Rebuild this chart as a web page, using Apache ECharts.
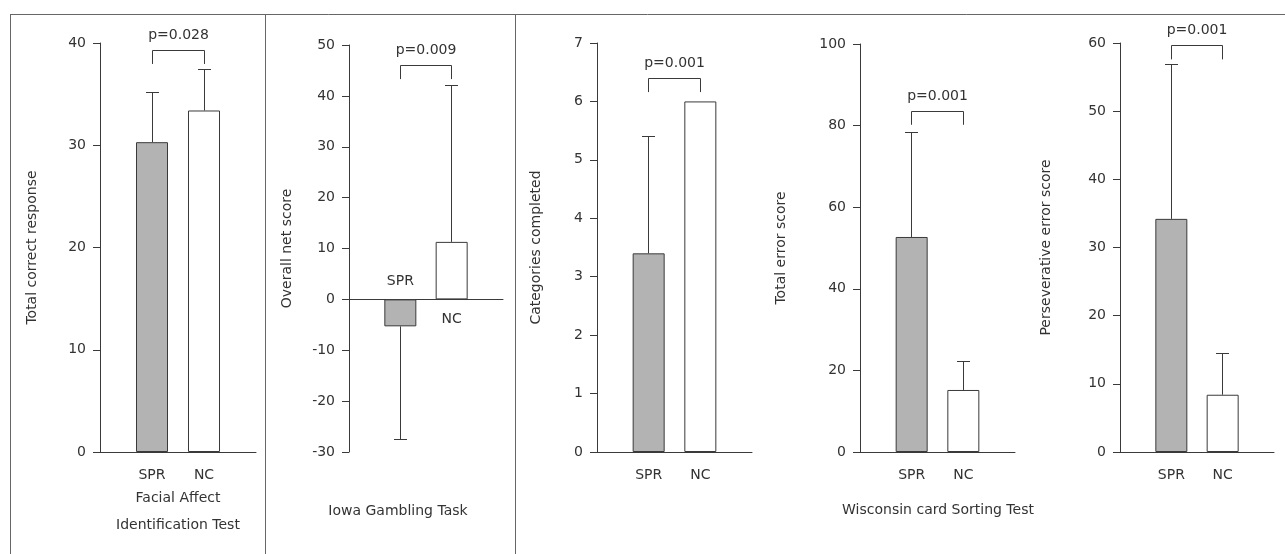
<!DOCTYPE html>
<html>
<head>
<meta charset="utf-8">
<script src="https://cdn.jsdelivr.net/npm/echarts@6/dist/echarts.min.js"></script>
<style>
html,body{margin:0;padding:0;background:#fff;}
#chart{width:1285px;height:554px;}
</style>
</head>
<body>
<div id="chart"></div>
<script>
// ---- data ----
const categories = ['', 'SPR', 'NC', ''];
const yTitles = ['Total correct response', 'Overall net score', 'Categories completed', 'Total error score', 'Perseverative error score'];
const sprMeans = [30.3, -5.3, 3.4, 52.7, 34.2];
const ncMeans = [33.4, 11.3, 6.0, 15.2, 8.4];
const sprErrEnd = [35.2, -27.6, 5.4, 78.2, 56.8];
const ncErrEnd = [37.4, 42.0, null, 22.2, 14.4];
const yMin = [0, -30, 0, 0, 0];
const yMax = [40, 50, 7, 100, 60];
const yInterval = [10, 10, 1, 20, 10];
const pValues = ['p=0.028', 'p=0.009', 'p=0.001', 'p=0.001', 'p=0.001'];
const bracketTop = [39.25, 45.9, 6.40, 83.4, 59.6];
const bracketLeg = [37.95, 43.3, 6.16, 80.2, 57.6];
const testNames = ['Facial Affect\nIdentification Test', 'Iowa Gambling Task', 'Wisconsin card Sorting Test'];

// ---- layout ----
const grids = [
  {left: 100, top: 43, width: 156, height: 409},
  {left: 349, top: 45, width: 154, height: 407},
  {left: 597, top: 43, width: 155, height: 409},
  {left: 860, top: 44, width: 155, height: 408},
  {left: 1120, top: 43, width: 154, height: 409}
];
const nameGaps = [61, 55, 54, 72, 67];
const FONT = '"DejaVu Sans", sans-serif';
const TXT = '#333';
const LINE = '#3a3a3a';
const SPR_FILL = '#b3b3b3';

function crisp(v) { return Math.round(v - 0.5) + 0.5; }

const xAxes = [], yAxes = [], series = [];
grids.forEach((g, i) => {
  xAxes.push({
    type: 'category', gridIndex: i, data: categories, boundaryGap: false,
    axisTick: {show: false},
    axisLine: {onZero: true, lineStyle: {color: LINE, width: 1}},
    axisLabel: {show: i !== 1, interval: 0, margin: 16, fontSize: 14, color: TXT, fontFamily: FONT},
    splitLine: {show: false}
  });
  yAxes.push({
    type: 'value', gridIndex: i, min: yMin[i], max: yMax[i], interval: yInterval[i],
    name: yTitles[i], nameLocation: 'middle', nameRotate: 90, nameGap: nameGaps[i],
    nameTextStyle: {fontSize: 14, color: TXT, fontFamily: FONT},
    axisLine: {show: true, onZero: false, lineStyle: {color: LINE, width: 1}},
    axisTick: {show: true, length: 7, lineStyle: {color: LINE}},
    axisLabel: {margin: 14, fontSize: 14, color: TXT, fontFamily: FONT},
    splitLine: {show: false}
  });
  series.push({
    type: 'bar', xAxisIndex: i, yAxisIndex: i, barWidth: 32,
    data: ['-',
      {value: sprMeans[i], itemStyle: {color: SPR_FILL}},
      {value: ncMeans[i], itemStyle: {color: '#ffffff'}},
      '-'],
    itemStyle: {borderColor: LINE, borderWidth: 1},
    silent: true, z: 2
  });
  const errData = [];
  if (sprErrEnd[i] !== null) errData.push([1, sprMeans[i], sprErrEnd[i]]);
  if (ncErrEnd[i] !== null) errData.push([2, ncMeans[i], ncErrEnd[i]]);
  series.push({
    type: 'custom', xAxisIndex: i, yAxisIndex: i, clip: false, silent: true, z: 3,
    data: errData,
    renderItem: function (params, api) {
      const x = api.value(0), m = api.value(1), e = api.value(2);
      const p0 = api.coord([x, m]), p1 = api.coord([x, e]);
      const cx = crisp(p0[0]), ey = crisp(p1[1]);
      return {type: 'group', children: [
        {type: 'line', shape: {x1: cx, y1: p0[1], x2: cx, y2: ey}, style: {stroke: LINE, lineWidth: 1}},
        {type: 'line', shape: {x1: cx - 6.5, y1: ey, x2: cx + 6.5, y2: ey}, style: {stroke: LINE, lineWidth: 1}}
      ]};
    }
  });
  series.push({
    type: 'custom', xAxisIndex: i, yAxisIndex: i, clip: false, silent: true, z: 3,
    data: [[1, 2, bracketTop[i], bracketLeg[i]]],
    renderItem: function (params, api) {
      const a = api.coord([api.value(0), api.value(2)]);
      const b = api.coord([api.value(1), api.value(2)]);
      const la = api.coord([api.value(0), api.value(3)]);
      const xa = crisp(a[0]), xb = crisp(b[0]), yt = crisp(a[1]);
      return {type: 'group', children: [
        {type: 'polyline', shape: {points: [[xa, la[1]], [xa, yt], [xb, yt], [xb, la[1]]]},
          style: {stroke: LINE, lineWidth: 1, fill: null}},
        {type: 'text', x: (xa + xb) / 2, y: yt - 15,
          style: {text: pValues[i], textAlign: 'center', textVerticalAlign: 'middle',
            font: '14px ' + FONT, fill: TXT}}
      ]};
    }
  });
});

// group labels on the zero line of the Iowa panel
series.push({
  type: 'custom', xAxisIndex: 1, yAxisIndex: 1, clip: false, silent: true, z: 4,
  data: [[1, 0, -1], [2, 0, 1]],
  renderItem: function (params, api) {
    const p = api.coord([api.value(0), api.value(1)]);
    const dir = api.value(2);
    return {type: 'text', x: p[0], y: p[1] + (dir < 0 ? -18 : 20),
      style: {text: categories[api.value(0)], textAlign: 'center', textVerticalAlign: 'middle',
        font: '14px ' + FONT, fill: TXT}};
  }
});

const frame = '#666';
const graphic = [
  {type: 'line', shape: {x1: 10, y1: 14.5, x2: 1285, y2: 14.5}, style: {stroke: frame, lineWidth: 1}},
  {type: 'line', shape: {x1: 10.5, y1: 14, x2: 10.5, y2: 554}, style: {stroke: frame, lineWidth: 1}},
  {type: 'line', shape: {x1: 265.5, y1: 14, x2: 265.5, y2: 554}, style: {stroke: frame, lineWidth: 1}},
  {type: 'line', shape: {x1: 515.5, y1: 14, x2: 515.5, y2: 554}, style: {stroke: frame, lineWidth: 1}},
  {type: 'text', x: 178, y: 511.5, style: {text: testNames[0], textAlign: 'center', textVerticalAlign: 'middle', font: '14px ' + FONT, fill: TXT, lineHeight: 27}},
  {type: 'text', x: 398, y: 511, style: {text: testNames[1], textAlign: 'center', textVerticalAlign: 'middle', font: '14px ' + FONT, fill: TXT}},
  {type: 'text', x: 938, y: 510, style: {text: testNames[2], textAlign: 'center', textVerticalAlign: 'middle', font: '14px ' + FONT, fill: TXT}}
];

const chart = echarts.init(document.getElementById('chart'), null, {renderer: 'canvas'});
chart.setOption({
  animation: false,
  backgroundColor: '#ffffff',
  grid: grids,
  xAxis: xAxes,
  yAxis: yAxes,
  series: series,
  graphic: graphic
});
</script>
</body>
</html>
